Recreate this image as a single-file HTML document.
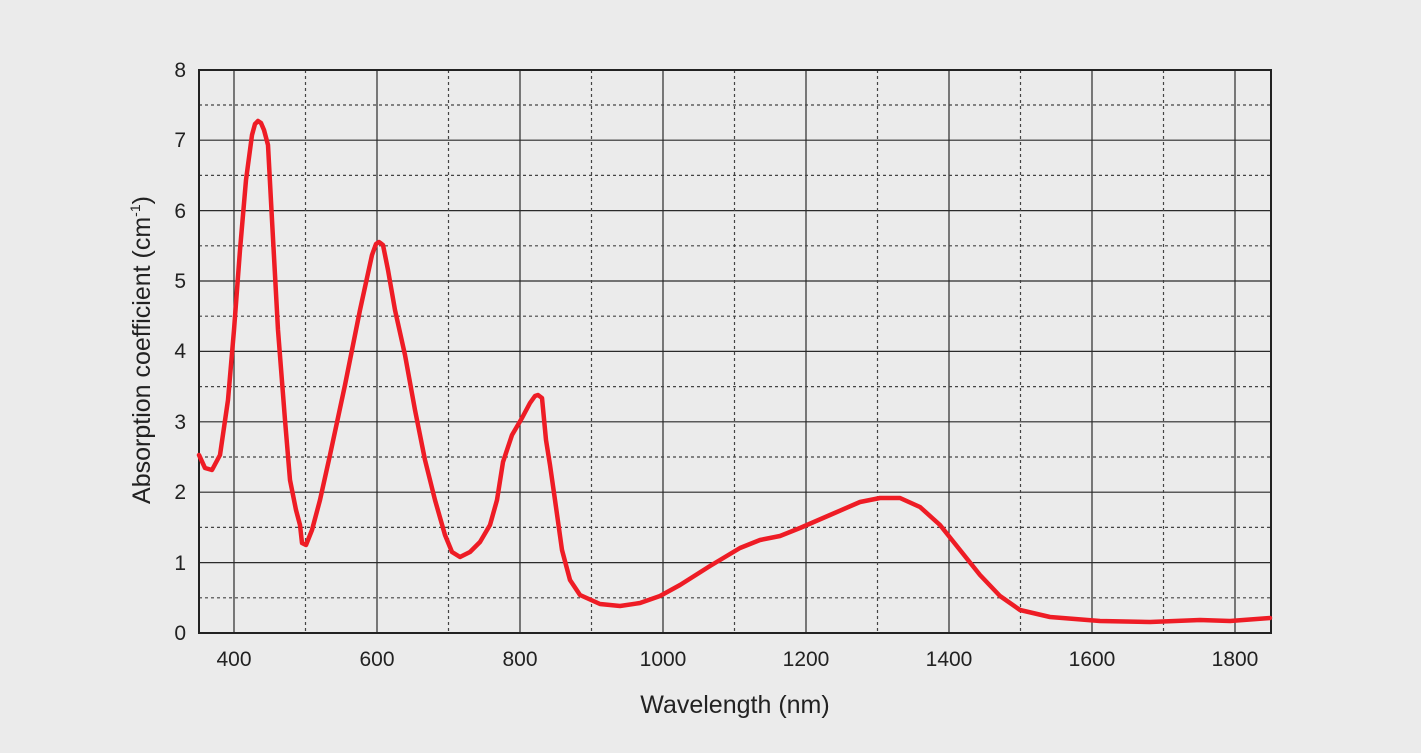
<!DOCTYPE html>
<html><head><meta charset="utf-8"><style>
html,body{margin:0;padding:0;background:#ebebeb;}
svg{display:block;font-family:"Liberation Sans","DejaVu Sans",sans-serif;}
</style></head><body>
<svg width="1421" height="753" viewBox="0 0 1421 753" xmlns="http://www.w3.org/2000/svg">
<rect width="1421" height="753" fill="#ebebeb"/>
<g stroke="#2a2a2a" stroke-width="1.2">
<line x1="199" x2="1271" y1="562.6" y2="562.6"/>
<line x1="199" x2="1271" y1="492.2" y2="492.2"/>
<line x1="199" x2="1271" y1="421.8" y2="421.8"/>
<line x1="199" x2="1271" y1="351.4" y2="351.4"/>
<line x1="199" x2="1271" y1="281" y2="281"/>
<line x1="199" x2="1271" y1="210.6" y2="210.6"/>
<line x1="199" x2="1271" y1="140.2" y2="140.2"/>
<line y1="70" y2="633" x1="234" x2="234"/>
<line y1="70" y2="633" x1="377" x2="377"/>
<line y1="70" y2="633" x1="520" x2="520"/>
<line y1="70" y2="633" x1="663" x2="663"/>
<line y1="70" y2="633" x1="806" x2="806"/>
<line y1="70" y2="633" x1="949" x2="949"/>
<line y1="70" y2="633" x1="1092" x2="1092"/>
<line y1="70" y2="633" x1="1235" x2="1235"/>
</g>
<g stroke="#444" stroke-width="1.2" stroke-dasharray="3,3">
<line x1="199" x2="1271" y1="597.8" y2="597.8"/>
<line x1="199" x2="1271" y1="527.4" y2="527.4"/>
<line x1="199" x2="1271" y1="457" y2="457"/>
<line x1="199" x2="1271" y1="386.6" y2="386.6"/>
<line x1="199" x2="1271" y1="316.2" y2="316.2"/>
<line x1="199" x2="1271" y1="245.8" y2="245.8"/>
<line x1="199" x2="1271" y1="175.4" y2="175.4"/>
<line x1="199" x2="1271" y1="105" y2="105"/>
<line y1="70" y2="633" x1="305.5" x2="305.5"/>
<line y1="70" y2="633" x1="448.5" x2="448.5"/>
<line y1="70" y2="633" x1="591.5" x2="591.5"/>
<line y1="70" y2="633" x1="734.5" x2="734.5"/>
<line y1="70" y2="633" x1="877.5" x2="877.5"/>
<line y1="70" y2="633" x1="1020.5" x2="1020.5"/>
<line y1="70" y2="633" x1="1163.5" x2="1163.5"/>
</g>
<rect x="199" y="70" width="1072" height="563" fill="none" stroke="#222" stroke-width="2"/>
<polyline fill="none" stroke="#ee1c25" stroke-width="4.5" stroke-linejoin="round" stroke-linecap="round" points="199,455 205,468 212,470 220,455 228,400 234,330 240,250 246,180 252,135 255,124 258,121 261,123 264,130 268,145 272,220 278,330 285,420 290,480 296,510 300,525 302,543 306,545 312,530 320,500 330,455 345,385 360,310 372,255 376,244 379,242 383,245 388,270 395,310 405,355 415,410 425,460 435,500 445,535 452,552 460,557 470,552 480,542 490,525 497,500 503,462 512,435 522,418 530,403 535,396 538,395 542,398 546,440 550,465 555,500 562,550 570,580 580,595 600,604 620,606 640,603 660,596 680,585 710,566 740,548 760,540 780,536 800,528 830,515 860,502 880,498 900,498 920,507 940,525 960,550 980,575 1000,596 1020,610 1050,617 1100,621 1150,622 1200,620 1230,621 1270,618"/>
<g font-size="21" fill="#222" text-anchor="end">
<text x="186" y="640">0</text><text x="186" y="570">1</text><text x="186" y="499">2</text><text x="186" y="429">3</text><text x="186" y="358">4</text><text x="186" y="288">5</text><text x="186" y="218">6</text><text x="186" y="147">7</text><text x="186" y="77">8</text>
</g>
<g font-size="21" fill="#222" text-anchor="middle">
<text x="234" y="666">400</text><text x="377" y="666">600</text><text x="520" y="666">800</text><text x="663" y="666">1000</text><text x="806" y="666">1200</text><text x="949" y="666">1400</text><text x="1092" y="666">1600</text><text x="1235" y="666">1800</text>
<text x="735" y="713" font-size="25">Wavelength (nm)</text>
<text transform="translate(150,350) rotate(-90)" font-size="25">Absorption coefficient (cm<tspan font-size="14" dy="-10">-1</tspan><tspan dy="10">)</tspan></text>
</g>
</svg>
</body></html>
